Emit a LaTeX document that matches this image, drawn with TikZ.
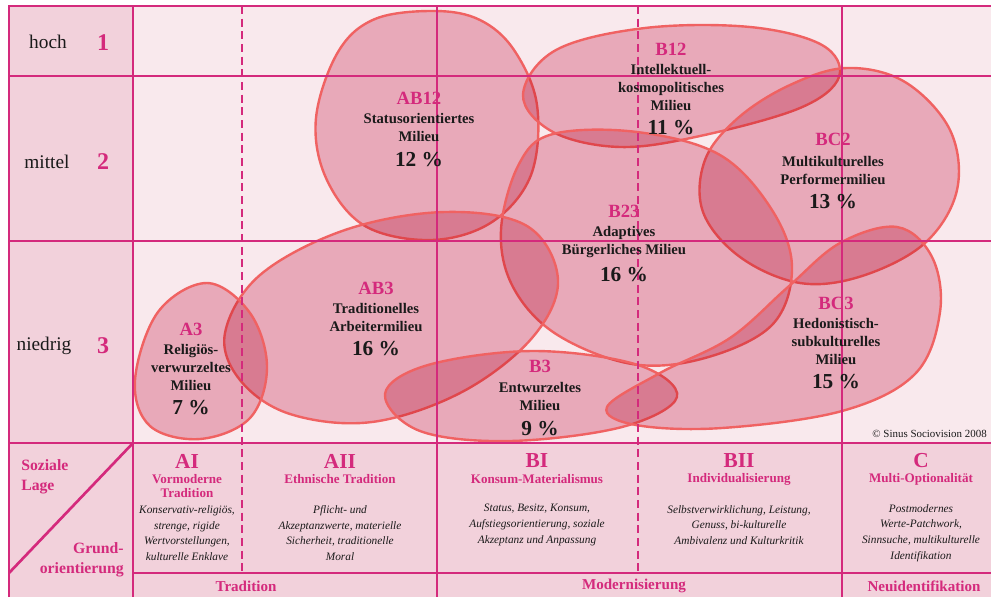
\documentclass[tikz,border=0pt]{standalone}
\usepackage{fontspec}
\setmainfont{Liberation Serif}

\definecolor{lagemagenta}{HTML}{D42A7C}
\definecolor{lagefeld}{HTML}{F2D1DB}
\definecolor{milieufeld}{HTML}{F9E9ED}
\definecolor{milieufill}{RGB}{238,186,200}
\definecolor{milieurand}{HTML}{F06262}
\definecolor{schwarz}{HTML}{1A1A1A}

\tikzset{
  raster/.style={draw=lagemagenta, line width=2pt},
  rasterdash/.style={raster, dash pattern=on 6pt off 3.5pt},
  milieu/.style={fill=milieufill, blend mode=multiply},
  milieurand/.style={draw=milieurand, line width=1.8pt},
  kuerzel/.style={inner sep=0pt, text=lagemagenta, font=\fontsize{14}{16}\selectfont\bfseries},
  milieuname/.style={inner sep=0pt, align=center, text=schwarz, font=\fontsize{11}{13.5}\selectfont\bfseries},
  anteil/.style={inner sep=0pt, text=schwarz, font=\fontsize{16}{18}\selectfont\bfseries},
  schicht/.style={inner sep=0pt, text=schwarz, font=\fontsize{14.5}{16}\selectfont},
  schichtnr/.style={inner sep=0pt, text=lagemagenta, font=\fontsize{18}{20}\selectfont\bfseries},
  achse/.style={inner sep=0pt, text=lagemagenta, font=\fontsize{16}{18}\selectfont\bfseries},
  achsentitel/.style={inner sep=0pt, align=center, text=lagemagenta, font=\fontsize{9.8}{10.5}\selectfont\bfseries},
  werte/.style={inner sep=0pt, align=center, text=schwarz, font=\fontsize{8.5}{11.8}\selectfont\itshape},
  ecke/.style={inner sep=0pt, text=lagemagenta, font=\fontsize{11.8}{15}\selectfont\bfseries},
  epoche/.style={inner sep=0pt, text=lagemagenta, font=\fontsize{11.3}{13}\selectfont\bfseries},
}

% ein Milieu: Flaeche multiplizieren, Rand normal darueber
\newcommand{\milieublob}[1]{%
  \fill[milieu] plot[smooth cycle, tension=0.6] coordinates {#1};
  \draw[milieurand] plot[smooth cycle, tension=0.6] coordinates {#1};
}

\begin{document}
\begin{tikzpicture}[x=0.75pt,y=-0.75pt]
        % Flaechen
        \fill[white] (0,0) rectangle (991,597);
        \useasboundingbox (0,0) rectangle (991,597);
        \fill[lagefeld] (9,6) rectangle (991,597);
        \fill[milieufeld] (133,6) rectangle (991,443);

        % Milieus
        \milieublob{(435,11) (480,20) (514,50) (537,105) (531,175) (492,222) (432,240) (365,226) (326,178) (316,118) (338,52) (375,19)}
        \milieublob{(523,95) (556,50) (645,28) (750,27) (822,45) (839,77) (800,108) (700,136) (620,147) (553,132)}
        \milieublob{(847,68) (905,82) (950,130) (957,190) (925,243) (862,276) (800,283) (740,257) (703,212) (705,160) (738,118) (790,85)}
        \milieublob{(553,134) (637,132) (720,155) (772,210) (792,268) (772,325) (705,358) (632,364) (556,334) (513,287) (501,230) (519,164)}
        \milieublob{(225,333) (260,275) (345,230) (445,212) (527,226) (558,280) (532,338) (462,392) (372,422) (290,414) (240,380)}
        \milieublob{(207,283) (250,313) (267,367) (250,418) (200,439) (150,426) (135,380) (158,312)}
        \milieublob{(385,394) (428,365) (534,351) (638,365) (677,397) (622,427) (510,441) (420,431)}
        \milieublob{(607,407) (660,373) (730,338) (788,287) (840,243) (897,227) (932,257) (940,312) (915,374) (842,411) (722,428) (636,425)}

        % Raster
        \draw[raster] (9,597) -- (9,6) -- (991,6);
        \foreach \y in {76,241,443}
            \draw[raster] (9,\y) -- (991,\y);
        \draw[raster] (133,573) -- (991,573);
        \foreach \x in {133,437,842}
            \draw[raster] (\x,6) -- (\x,597);
        \foreach \x in {242,638}
            \draw[rasterdash] (\x,6) -- (\x,573);
        \draw[raster] (133,443) -- (9,573);

        % soziale Lage
        \node[schicht] (hoch) at (48,42) {hoch};
        \node[schichtnr] (nr1) at (103,43) {1};
        \node[schicht] (mittel) at (47,162) {mittel};
        \node[schichtnr] (nr2) at (103,162) {2};
        \node[schicht] (niedrig) at (44,346) {niedrig};
        \node[schichtnr] (nr3) at (103,346) {3};

        % Milieu-Beschriftungen
        \node[kuerzel] (ab12) at (419,98) {AB12};
        \node[milieuname] (ab12name) at (419,127) {Statusorientiertes\\Milieu};
        \node[anteil] (ab12wert) at (419,160) {12 \%};

        \node[kuerzel] (b12) at (671,49) {B12};
        \node[milieuname] (b12name) at (671,87) {Intellektuell-\\kosmopolitisches\\Milieu};
        \node[anteil] (b12wert) at (671,128) {11 \%};

        \node[kuerzel] (bc2) at (833,139) {BC2};
        \node[milieuname] (bc2name) at (833,170) {Multikulturelles\\Performermilieu};
        \node[anteil] (bc2wert) at (833,202) {13 \%};

        \node[kuerzel] (b23) at (624,211) {B23};
        \node[milieuname] (b23name) at (624,242) {Adaptives\\Bürgerliches Milieu};
        \node[anteil] (b23wert) at (624,275) {16 \%};

        \node[kuerzel] (ab3) at (376,288) {AB3};
        \node[milieuname] (ab3name) at (376,317) {Traditionelles\\Arbeitermilieu};
        \node[anteil] (ab3wert) at (376,349) {16 \%};

        \node[kuerzel] (a3) at (191,329) {A3};
        \node[milieuname] (a3name) at (191,367) {Religiös-\\verwurzeltes\\Milieu};
        \node[anteil] (a3wert) at (191,408) {7 \%};

        \node[kuerzel] (bc3) at (836,303) {BC3};
        \node[milieuname] (bc3name) at (836,341) {Hedonistisch-\\subkulturelles\\Milieu};
        \node[anteil] (bc3wert) at (836,382) {15 \%};

        \node[kuerzel] (b3) at (540,366) {B3};
        \node[milieuname] (b3name) at (540,396) {Entwurzeltes\\Milieu};
        \node[anteil] (b3wert) at (540,429) {9 \%};

        \node[inner sep=0pt, anchor=base east, text=schwarz, font=\fontsize{8.2}{10}\selectfont] (quelle) at (987,437) {© Sinus Sociovision 2008};

        % Grundorientierung
        \node[ecke, align=left, anchor=west] (lage) at (21,477) {Soziale\\Lage};
        \node[ecke, align=right, anchor=east] (grund) at (124,560) {Grund-\\orientierung};

        \node[achse] (ai) at (187,461) {AI};
        \node[achsentitel] (aititel) at (187,486) {Vormoderne\\Tradition};
        \node[werte] (aiwerte) at (187,533) {Konservativ-religiös,\\strenge, rigide\\Wertvorstellungen,\\kulturelle Enklave};

        \node[achse] (aii) at (340,461) {AII};
        \node[achsentitel] (aiititel) at (340,479) {Ethnische Tradition};
        \node[werte] (aiiwerte) at (340,533) {Pflicht- und\\Akzeptanzwerte, materielle\\Sicherheit, traditionelle\\Moral};

        \node[achse] (bi) at (537,461) {BI};
        \node[achsentitel] (bititel) at (537,479) {Konsum-Materialismus};
        \node[werte] (biwerte) at (537,525) {Status, Besitz, Konsum,\\Aufstiegsorientierung, soziale\\Akzeptanz und Anpassung};

        \node[achse] (bii) at (739,461) {BII};
        \node[achsentitel] (biititel) at (739,479) {Individualisierung};
        \node[werte] (biiwerte) at (739,525) {Selbstverwirklichung, Leistung,\\Genuss, bi-kulturelle\\Ambivalenz und Kulturkritik};

        \node[achse] (c) at (921,461) {C};
        \node[achsentitel] (ctitel) at (921,479) {Multi-Optionalität};
        \node[werte] (cwerte) at (921,533) {Postmodernes\\Werte-Patchwork,\\Sinnsuche, multikulturelle\\Identifikation};

        \node[epoche] (tradition) at (246,586) {Tradition};
        \node[epoche] (modern) at (634,586) {Modernisierung};
        \node[epoche] (neu) at (924,586) {Neuidentifikation};
    \end{tikzpicture}
\end{document}
